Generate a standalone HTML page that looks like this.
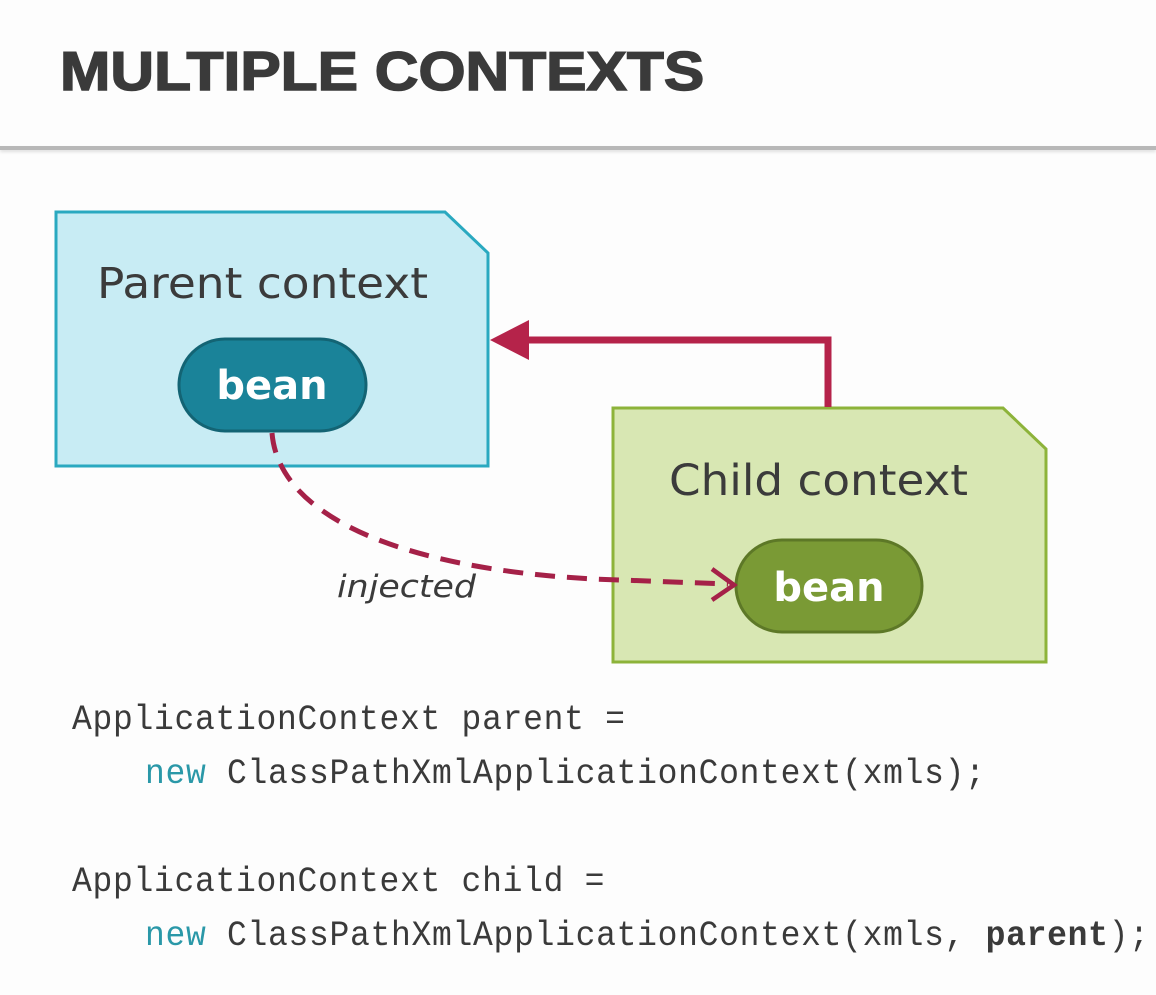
<!DOCTYPE html>
<html><head><meta charset="utf-8"><style>
html,body{margin:0;padding:0;background:#fdfdfd;}
body{width:1156px;height:995px;position:relative;overflow:hidden;font-family:"Liberation Sans",sans-serif;}
.title{position:absolute;left:60px;top:39px;font-size:55px;font-weight:bold;color:#3a3a3a;transform-origin:0 0;transform:scaleX(1.1);white-space:nowrap;-webkit-text-stroke:1.5px #3a3a3a;}
.hr{position:absolute;left:0;top:146px;width:1156px;height:4px;background:#b8b8b8;box-shadow:0 2px 3px rgba(0,0,0,0.12);}
.code{position:absolute;font-family:"Liberation Mono",monospace;font-size:33px;color:#3a3a3a;white-space:pre;letter-spacing:0.7px;transform-origin:0 0;transform:scaleY(1.08);}
.kw{color:#2a98a8;}
</style></head><body>
<div class="title">MULTIPLE CONTEXTS</div>
<div class="hr"></div>
<svg width="1156" height="995" style="position:absolute;left:0;top:0">
<polygon points="56,212 445,212 488,253 488,466 56,466" fill="#c8ecf4" stroke="#2aa9c0" stroke-width="3"/>
<polygon points="613,408 1003,408 1046,449 1046,662 613,662" fill="#d8e7b3" stroke="#8db33a" stroke-width="3"/>
<text x="97" y="298" font-family="DejaVu Sans,sans-serif" font-size="43" fill="#3b3b3b" textLength="331" lengthAdjust="spacingAndGlyphs">Parent context</text>
<text x="669" y="495" font-family="DejaVu Sans,sans-serif" font-size="43" fill="#3b3b3b" textLength="299" lengthAdjust="spacingAndGlyphs">Child context</text>
<rect x="179" y="339" width="187" height="92" rx="46" fill="#1a8399" stroke="#136474" stroke-width="3"/>
<text x="272" y="399" text-anchor="middle" font-family="DejaVu Sans,sans-serif" font-weight="bold" font-size="40" fill="#fff">bean</text>
<rect x="736" y="540" width="186" height="92" rx="46" fill="#7a9a35" stroke="#5d7827" stroke-width="3"/>
<text x="829" y="601" text-anchor="middle" font-family="DejaVu Sans,sans-serif" font-weight="bold" font-size="40" fill="#fff">bean</text>
<polyline points="828,407 828,340 520,340" fill="none" stroke="#b5234a" stroke-width="7"/>
<polygon points="490,340 529,320 529,360" fill="#b5234a"/>
<path d="M272,433 C280,530 440,575 620,580 L728,584" fill="none" stroke="#a52148" stroke-width="5" stroke-dasharray="20,12"/>
<polyline points="712,569 734,585 712,600" fill="none" stroke="#a52148" stroke-width="4.5"/>
<text x="337" y="597" font-family="DejaVu Sans,sans-serif" font-style="italic" font-size="31" fill="#3b3b3b" textLength="139" lengthAdjust="spacingAndGlyphs">injected</text>
</svg>
<div class="code" style="left:72px;top:700px">ApplicationContext parent =</div>
<div class="code" style="left:145px;top:754px"><span class="kw">new</span> ClassPathXmlApplicationContext(xmls);</div>
<div class="code" style="left:72px;top:862px">ApplicationContext child =</div>
<div class="code" style="left:145px;top:916px"><span class="kw">new</span> ClassPathXmlApplicationContext(xmls, <b>parent</b>);</div>
</body></html>
